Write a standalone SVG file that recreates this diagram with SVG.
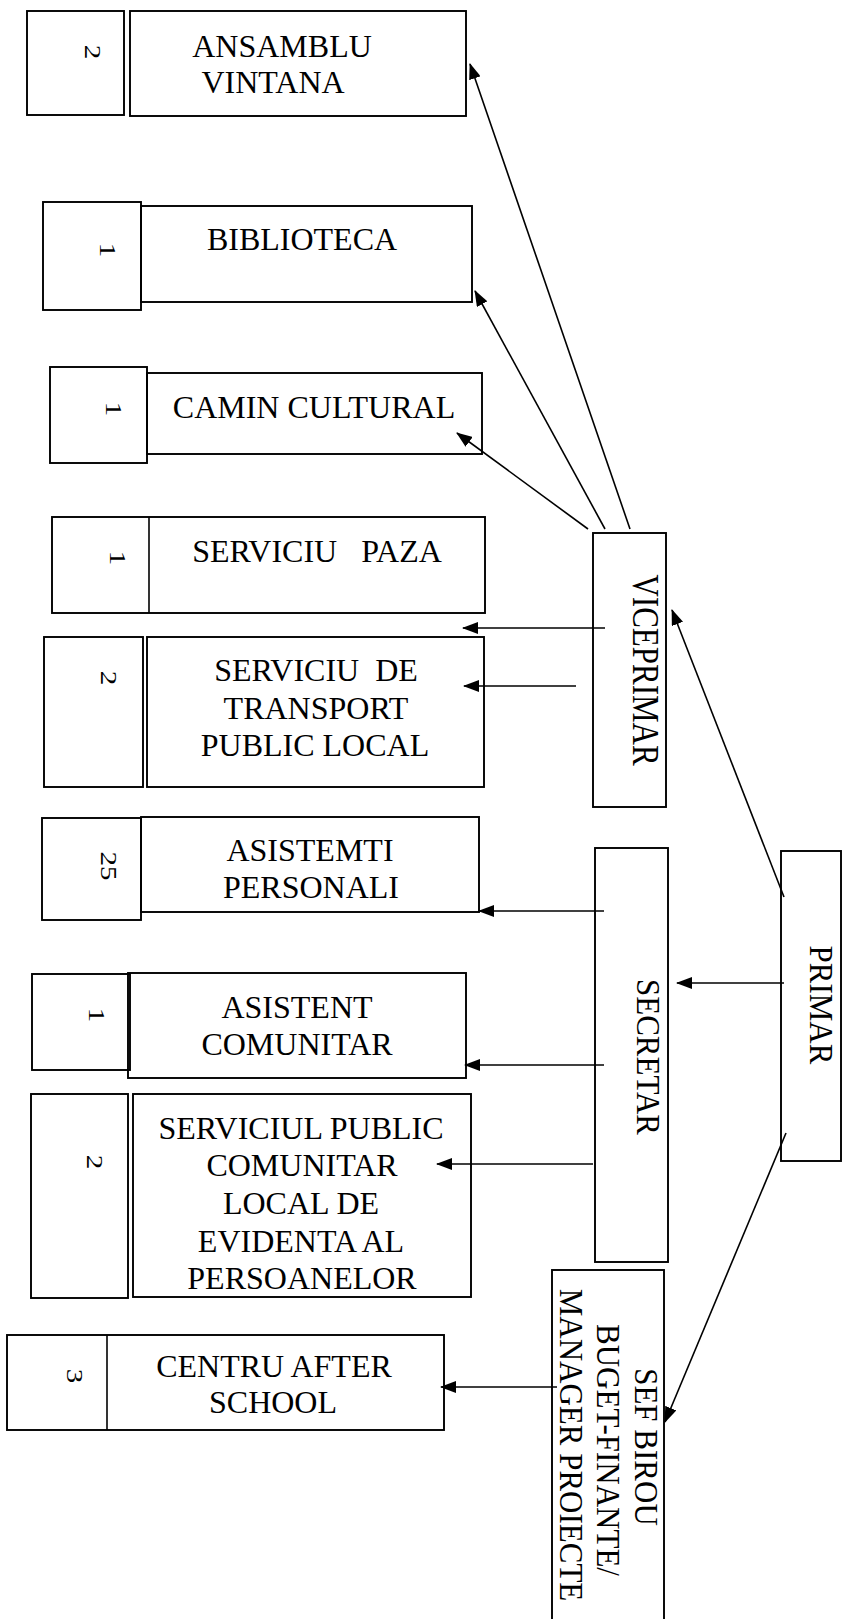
<svg xmlns="http://www.w3.org/2000/svg" width="843" height="1619" viewBox="0 0 843 1619">
<style>
.box{fill:none;stroke:#000;stroke-width:1.9}
.t{font-family:"Liberation Serif","Times New Roman",serif;font-size:32px;fill:#000;text-anchor:middle;white-space:pre}
.v{font-family:"Liberation Serif","Times New Roman",serif;font-size:31px;fill:#000;text-anchor:middle}
.n{font-family:"Liberation Serif","Times New Roman",serif;font-size:29px;fill:#000;text-anchor:middle}
.c{stroke:#000;stroke-width:1.6;fill:none;marker-end:url(#ah)}
.p{stroke:#000;stroke-width:1.6;fill:none}
</style>
<defs>
<marker id="ah" viewBox="0 0 16 12" refX="15" refY="6" markerWidth="16" markerHeight="12" markerUnits="userSpaceOnUse" orient="auto"><path d="M0,0 L16,6 L0,12 z" fill="#000"/></marker>
</defs>
<rect width="843" height="1619" fill="#fff"/>

<g id="ansamblu">
<rect class="box" x="27" y="11" width="97" height="104"/>
<rect class="box" x="130" y="11" width="336" height="105"/>
<text class="n" transform="translate(85,52) rotate(90) scale(1,0.82)">2</text>
<text class="t" x="282" y="57">ANSAMBLU</text>
<text class="t" x="273" y="93">VINTANA</text>
</g>

<g id="biblioteca">
<rect class="box" x="43" y="202" width="98" height="108"/>
<rect class="box" x="141" y="206" width="331" height="96"/>
<text class="n" transform="translate(100,250) rotate(90) scale(1,0.82)">1</text>
<text class="t" x="302" y="250">BIBLIOTECA</text>
</g>

<g id="camin">
<rect class="box" x="50" y="367" width="97" height="96"/>
<rect class="box" x="147" y="373" width="335" height="81"/>
<text class="n" transform="translate(106,409) rotate(90) scale(1,0.82)">1</text>
<text class="t" x="314" y="418">CAMIN CULTURAL</text>
</g>

<g id="paza">
<rect class="box" x="52" y="517" width="433" height="96"/>
<line class="p" x1="149" y1="517" x2="149" y2="613"/>
<text class="n" transform="translate(110,558) rotate(90) scale(1,0.82)">1</text>
<text class="t" x="317" y="562">SERVICIU   PAZA</text>
</g>

<g id="transport">
<rect class="box" x="44" y="637" width="99" height="150"/>
<rect class="box" x="147" y="637" width="337" height="150"/>
<text class="n" transform="translate(101,678) rotate(90) scale(1,0.82)">2</text>
<text class="t" x="316" y="681">SERVICIU  DE</text>
<text class="t" x="316" y="719">TRANSPORT</text>
<text class="t" x="315" y="756">PUBLIC LOCAL</text>
</g>

<g id="asistemti">
<rect class="box" x="42" y="818" width="99" height="102"/>
<rect class="box" x="141" y="817" width="338" height="95"/>
<text class="n" transform="translate(101,866) rotate(90) scale(1,0.82)">25</text>
<text class="t" x="310" y="861">ASISTEMTI</text>
<text class="t" x="311" y="898">PERSONALI</text>
</g>

<g id="asistent">
<rect class="box" x="32" y="974" width="98" height="96"/>
<rect class="box" x="128" y="973" width="338" height="105"/>
<text class="n" transform="translate(89,1015) rotate(90) scale(1,0.82)">1</text>
<text class="t" x="297" y="1018">ASISTENT</text>
<text class="t" x="297" y="1055">COMUNITAR</text>
</g>

<g id="evidenta">
<rect class="box" x="31" y="1094" width="97" height="204"/>
<rect class="box" x="133" y="1094" width="338" height="203"/>
<text class="n" transform="translate(87,1162) rotate(90) scale(1,0.82)">2</text>
<text class="t" x="301" y="1139">SERVICIUL PUBLIC</text>
<text class="t" x="302" y="1176">COMUNITAR</text>
<text class="t" x="301" y="1214">LOCAL DE</text>
<text class="t" x="301" y="1252">EVIDENTA AL</text>
<text class="t" x="302" y="1289">PERSOANELOR</text>
</g>

<g id="afterschool">
<rect class="box" x="7" y="1335" width="437" height="95"/>
<line class="p" x1="107" y1="1335" x2="107" y2="1430"/>
<text class="n" transform="translate(67,1376) rotate(90) scale(1,0.82)">3</text>
<text class="t" x="274" y="1377">CENTRU AFTER</text>
<text class="t" x="273" y="1413">SCHOOL</text>
</g>

<g id="viceprimar">
<rect class="box" x="593" y="533" width="73" height="274"/>
<text class="v" transform="translate(633,670) rotate(90) scale(1,1.25)">VICEPRIMAR</text>
</g>

<g id="secretar">
<rect class="box" x="595" y="848" width="73" height="414"/>
<text class="v" transform="translate(637,1057) rotate(90) scale(1,1.1)">SECRETAR</text>
</g>

<g id="primar">
<rect class="box" x="781" y="851" width="60" height="310"/>
<text class="v" transform="translate(810,1005) rotate(90) scale(1,1.1)">PRIMAR</text>
</g>

<g id="sefbirou">
<rect class="box" x="552" y="1270" width="112" height="370"/>
<text class="v" transform="translate(635,1447) rotate(90) scale(1,1.1)">SEF BIROU</text>
<text class="v" transform="translate(597,1450) rotate(90) scale(1,1.1)">BUGET-FINANTE/</text>
<text class="v" transform="translate(560,1445) rotate(90) scale(1,1.1)">MANAGER PROIECTE</text>
</g>

<g id="connectors">
<path class="c" d="M630,529 L470,64"/>
<path class="c" d="M605,529 L475,291"/>
<path class="c" d="M588,529 L457,433"/>
<path class="c" d="M605,628 L463,628"/>
<path class="c" d="M576,686 L464,686"/>
<path class="c" d="M784,897 L672,610"/>
<path class="c" d="M784,983 L677,983"/>
<path class="c" d="M604,911 L479,911"/>
<path class="c" d="M604,1065 L465,1065"/>
<path class="c" d="M593,1164 L437,1164"/>
<path class="c" d="M786,1133 L665,1422"/>
<path class="c" d="M557,1387 L441,1387"/>
</g>
</svg>
